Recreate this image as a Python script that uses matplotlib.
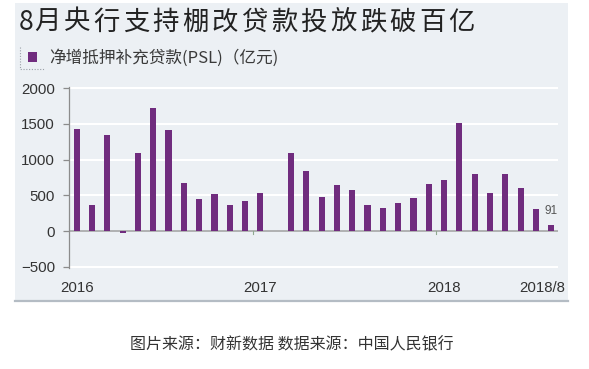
import matplotlib
matplotlib.use("Agg")
import matplotlib.pyplot as plt
from matplotlib.patches import Rectangle
from matplotlib.lines import Line2D

# monthly net PSL, 2016/01 .. 2018/08 (100m yuan)
months = [f"{y}/{m}" for y in (2016, 2017, 2018) for m in range(1, 13)][:32]
psl = [1430, 360, 1345, -25, 1095, 1725, 1410, 680, 445, 515, 360, 415,
       540, 0, 1095, 845, 480, 645, 580, 360, 330, 395, 470, 655,
       720, 1510, 805, 530, 805, 610, 305, 91]
year_ticks = [0, 12, 24]
year_labels = ["2016", "2017", "2018"]
title = "8月央行支持棚改贷款投放跌破百亿"
legend_label = "净增抵押补充贷款(PSL)（亿元)"
source = "图片来源：财新数据 数据来源：中国人民银行"

W, H = 589, 369
BG = "#ECF0F4"
PURPLE = "#702C7E"
cjk = ["Noto Sans CJK SC", "DejaVu Sans"]

fig = plt.figure(figsize=(W / 100, H / 100), dpi=100)

def px(x, y):
    return x / W, 1 - y / H

# panel background
fig.patches.append(Rectangle(px(15, 300), 553 / W, 297 / H, transform=fig.transFigure,
                             facecolor=BG, edgecolor="none", zorder=-10))
fig.lines.append(Line2D([15 / W, 568 / W], [1 - 300.5 / H] * 2, transform=fig.transFigure,
                        color="#B4BCC4", lw=1.6))

# title, drawn with wide letter spacing
x0 = 19
for i, ch in enumerate(title):
    fig.text(x0 / W, 1 - 22 / H, ch, fontsize=19, family=cjk, color="#222222",
             va="center", ha="left")
    x0 += 15 if ch.isdigit() else 29.6

# legend
fig.patches.append(Rectangle(px(28, 62), 9 / W, 10 / H, transform=fig.transFigure,
                             facecolor=PURPLE, edgecolor="none"))
fig.text(49 / W, 1 - 58 / H, legend_label, fontsize=12, family=cjk, color="#3A3A3A",
         va="center", ha="left")
fig.lines.append(Line2D([20 / W, 20 / W, 44 / W], [1 - 47 / H, 1 - 69 / H, 1 - 69 / H],
                        transform=fig.transFigure, color="#9AA0A8", lw=0.8, ls=(0, (1, 1.5))))

ax = fig.add_axes([69 / W, 1 - 268 / H, 489 / W, 181 / H])
ax.set_facecolor("none")
x = list(range(len(psl)))
ax.bar(x, psl, width=0.4, color=PURPLE, zorder=3)
ax.set_xlim(-0.5, 31.44)
ax.set_ylim(-514, 2014)
ax.set_yticks([-500, 0, 500, 1000, 1500, 2000])
ax.set_yticklabels(["−500", "0", "500", "1000", "1500", "2000"])
for v in [-500, 500, 1000, 1500, 2000]:
    ax.axhline(v, color="white", lw=1.5, zorder=1)
ax.axhline(0, color="#A6A6A6", lw=1.2, zorder=2)

for s in ["top", "right", "bottom"]:
    ax.spines[s].set_visible(False)
ax.spines["left"].set_color("#8C8C8C")
ax.spines["left"].set_linewidth(0.9)
ax.tick_params(axis="y", length=4, width=0.9, color="#8C8C8C", pad=6,
               labelsize=10.8, labelcolor="#333333")
ax.set_xticks([])
for xt in [11.5, 23.5]:
    ax.plot([xt, xt], [0, -45], color="#8FA98F", lw=0.8, zorder=2)

for t in ax.get_yticklabels():
    t.set_family("Liberation Sans")

for xt, lab in zip(year_ticks, year_labels):
    ax.text(xt, -790, lab, ha="center", va="center", fontsize=10.8,
            family="Liberation Sans", color="#333333", clip_on=False)
ax.text(31.93, -790, "2018/8", ha="right", va="center", fontsize=10.8,
        family="Liberation Sans", color="#333333", clip_on=False)
ax.text(x[-1], psl[-1] + 110, str(psl[-1]), ha="center", va="bottom", fontsize=8.5,
        family="Liberation Sans", color="#555555")

fig.text(292 / W, 1 - 345 / H, source, fontsize=11.5, family=cjk, color="#333333",
         ha="center", va="center")

fig.savefig("out.png", dpi=100, facecolor="white")
